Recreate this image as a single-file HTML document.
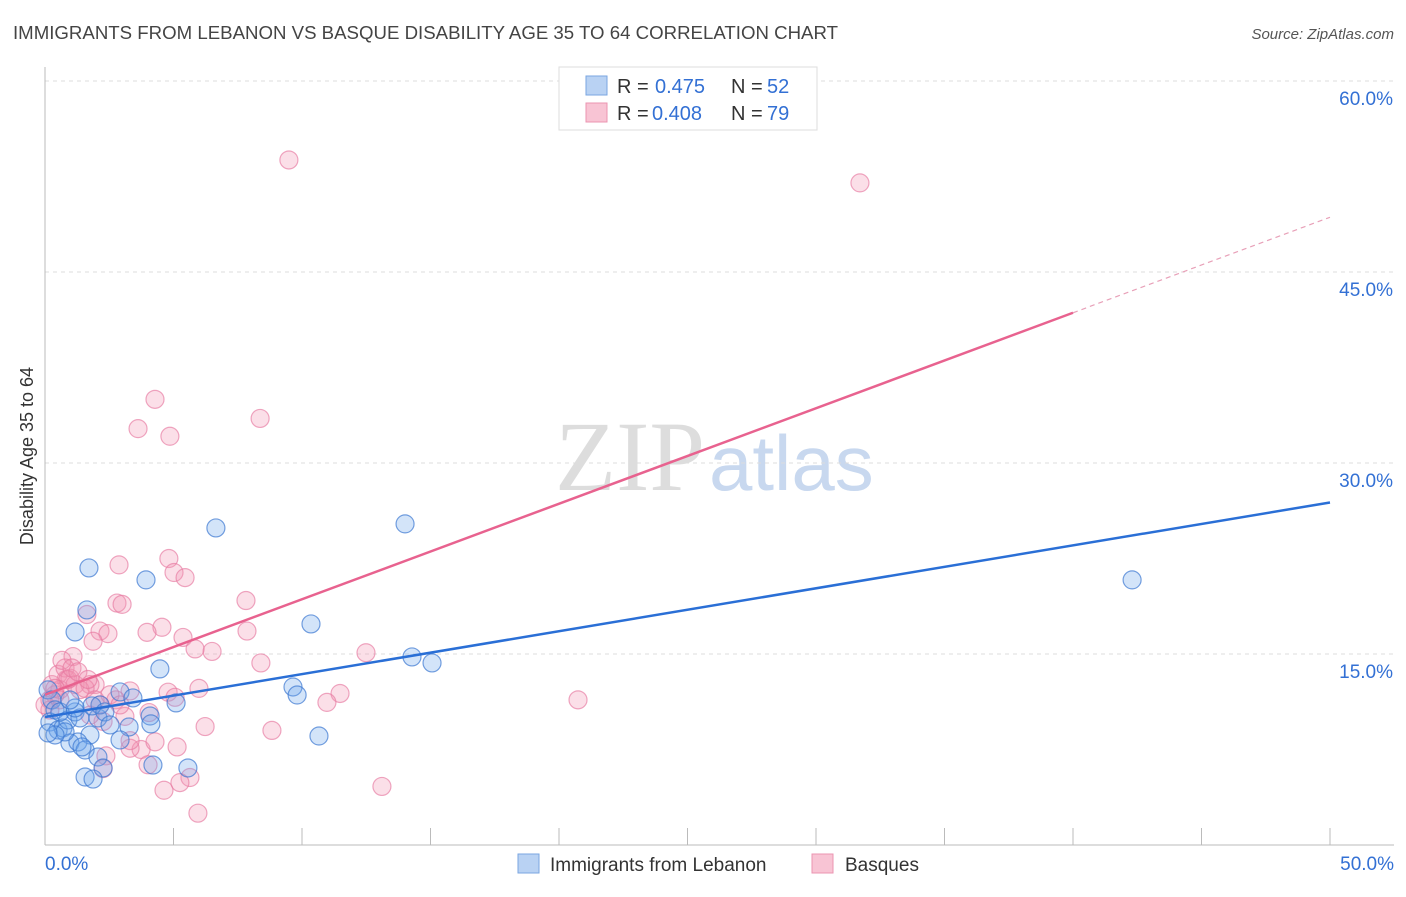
<!DOCTYPE html>
<html><head><meta charset="utf-8"><style>
body{margin:0;background:#fff;font-family:"Liberation Sans",sans-serif;}
</style></head><body>
<svg id="chart" width="1406" height="892" xmlns="http://www.w3.org/2000/svg" font-family="Liberation Sans, sans-serif">
<text x="13" y="39" font-size="18" fill="#444" textLength="825" lengthAdjust="spacingAndGlyphs">IMMIGRANTS FROM LEBANON VS BASQUE DISABILITY AGE 35 TO 64 CORRELATION CHART</text>
<text x="1394" y="39" font-size="15" fill="#555" text-anchor="end" font-style="italic">Source: ZipAtlas.com</text>
<text x="555" y="490" font-size="100"><tspan fill="#ddd" font-family="Liberation Serif, serif">ZIP</tspan><tspan fill="#c8d8ef" font-size="78" dx="4">atlas</tspan></text>
<text transform="translate(33,456) rotate(-90)" font-size="18" fill="#333" text-anchor="middle">Disability Age 35 to 64</text>
<g id="grid"></g>
<g id="axes"></g>
<g id="pts"></g>
<g id="lines"></g>
<g>
<rect x="559" y="67" width="258" height="63" fill="#fff" stroke="#ddd"/>
<rect x="586" y="76" width="21" height="19" fill="#b9d2f3" stroke="#7aa6e0"/>
<text x="617" y="93" font-size="20" fill="#333">R = </text><text x="655" y="93" font-size="20" fill="#3370d4">0.475</text>
<text x="731" y="93" font-size="20" fill="#333">N = </text><text x="767" y="93" font-size="20" fill="#3370d4">52</text>
<rect x="586" y="103" width="21" height="19" fill="#f8c4d4" stroke="#eb94b1"/>
<text x="617" y="120" font-size="20" fill="#333">R = </text><text x="652" y="120" font-size="20" fill="#3370d4">0.408</text>
<text x="731" y="120" font-size="20" fill="#333">N = </text><text x="767" y="120" font-size="20" fill="#3370d4">79</text>
</g>
<g>
<rect x="518" y="854" width="21" height="19" fill="#b9d2f3" stroke="#7aa6e0"/>
<text x="550" y="871" font-size="19" fill="#333">Immigrants from Lebanon</text>
<rect x="812" y="854" width="21" height="19" fill="#f8c4d4" stroke="#eb94b1"/>
<text x="845" y="871" font-size="19" fill="#333">Basques</text>
</g>
</svg>
<script>
const yTicks=[15,30,45,60];
const xTickLabels=["0.0%","50.0%"];
const blueX=[1.71,3.93,6.65,14.01,42.3,1.63,1.17,10.35,4.47,14.28,15.06,9.65,9.81,2.92,3.42,5.10,4.09,4.12,0.12,0.27,0.39,0.19,0.51,0.70,0.89,1.17,1.36,1.75,0.97,1.28,1.56,2.06,2.14,3.27,2.92,2.06,2.26,1.56,1.87,4.20,5.56,10.66,0.58,0.78,0.39,0.12,1.17,1.83,1.44,2.33,0.97,2.53];
const blueY=[21.76,20.82,24.90,25.22,20.82,18.46,16.73,17.36,13.83,14.77,14.30,12.41,11.78,12.02,11.55,11.16,10.13,9.51,12.18,11.39,10.61,9.66,9.03,9.19,9.82,10.45,9.98,8.64,8.01,8.09,7.46,9.98,11.00,9.27,8.25,6.91,6.05,5.34,5.18,6.28,6.05,8.56,10.45,8.88,8.64,8.80,10.76,10.92,7.70,10.45,11.39,9.43];
const pinkX=[9.49,31.71,4.28,3.62,4.86,8.37,4.82,2.88,5.02,5.45,7.82,2.80,3.00,1.63,4.55,3.97,5.37,2.14,2.45,1.87,7.86,6.50,5.84,12.49,8.40,1.09,20.74,11.48,10.97,4.79,5.06,5.99,3.31,1.95,1.75,2.76,4.05,3.11,2.26,6.23,8.83,5.14,3.74,2.37,3.31,2.26,4.01,5.64,4.63,5.25,5.95,13.11,0.82,0.58,0.39,0.19,0.27,0.51,0.78,0.97,1.17,1.36,1.56,0.66,0.89,0.19,0.39,1.05,1.28,0,1.67,0.58,1.95,2.53,1.75,2.92,3.31,4.28,2.14];
const pinkY=[53.8,52.0,35.0,32.7,32.1,33.5,22.5,22.0,21.4,21.0,19.2,19.0,18.9,18.1,17.1,16.7,16.3,16.8,16.6,16.0,16.8,15.2,15.4,15.1,14.3,14.8,11.4,11.9,11.2,12.0,11.6,12.3,12.1,12.6,12.6,11.4,10.4,10.1,9.7,9.3,9.0,7.7,7.5,7.0,7.6,6.0,6.3,5.3,4.3,4.9,2.5,4.6,13.0,12.2,11.8,11.4,12.6,13.4,13.9,13.1,12.6,12.2,12.3,14.5,13.0,10.6,12.3,13.9,13.6,11.0,13.0,11.4,11.4,11.8,10.2,11.0,8.2,8.1,11.0];
const blueFit=[10.05,26.9];
const pinkFit=[11.8,49.3];
const pinkSolidEnd=40;
const NS="http://www.w3.org/2000/svg";
const xs=v=>45+v*25.7, ys=v=>845-v*12.733;
function mk(tag,attrs,parent){const e=document.createElementNS(NS,tag);for(const k in attrs)e.setAttribute(k,attrs[k]);parent.appendChild(e);return e;}
const grid=document.getElementById('grid'),axes=document.getElementById('axes'),pts=document.getElementById('pts'),lines=document.getElementById('lines');
yTicks.forEach(t=>{
 const l=mk('line',{x1:45,x2:1394,y1:ys(t),y2:ys(t),stroke:'#ddd','stroke-dasharray':'4,4'},grid);
 
 
 const tx=mk('text',{x:1393,y:ys(t)+24,'font-size':19,fill:'#3370d4','text-anchor':'end'},grid);
 tx.textContent=t.toFixed(1)+'%';
 
 
});
const ax=mk('line',{x1:45,x2:45,y1:67,y2:845,stroke:'#bbb'},axes);


const bx=mk('line',{x1:45,x2:1394,y1:845,y2:845,stroke:'#bbb'},axes);


for(let i=0;i<=10;i++){const t=mk('line',{x1:xs(i*5),x2:xs(i*5),y1:828,y2:845,stroke:'#bbb'},axes);
 
 }
[[0,'start',45],[1,'end',1394]].forEach(([i,a,x])=>{const t=mk('text',{x:x,y:870,'font-size':19,fill:'#3370d4','text-anchor':a},axes);t.textContent=xTickLabels[i];
 
 });
function dots(X,Y,fill,stroke,name){X.forEach((x,i)=>{const c=mk('circle',{cx:xs(x),cy:ys(Y[i]),r:9,fill:fill,stroke:stroke,'stroke-width':1.2},pts);
 
 });}
dots(pinkX,pinkY,'rgba(242,150,180,0.3)','rgba(230,120,160,0.65)','basques-point');
dots(blueX,blueY,'rgba(110,165,235,0.3)','rgba(60,120,210,0.7)','lebanon-point');
const bl=mk('line',{x1:xs(0),y1:ys(blueFit[0]),x2:xs(50),y2:ys(blueFit[1]),stroke:'#2a6fd6','stroke-width':2.5},lines);


const py=x=>pinkFit[0]+(pinkFit[1]-pinkFit[0])*x/50;
const pl=mk('line',{x1:xs(0),y1:ys(py(0)),x2:xs(pinkSolidEnd),y2:ys(py(pinkSolidEnd)),stroke:'#e8628f','stroke-width':2.5},lines);


const pd=mk('line',{x1:xs(pinkSolidEnd),y1:ys(py(pinkSolidEnd)),x2:xs(50),y2:ys(py(50)),stroke:'#e8a0b8','stroke-width':1.2,'stroke-dasharray':'5,4'},lines);


</script>
</body></html>
